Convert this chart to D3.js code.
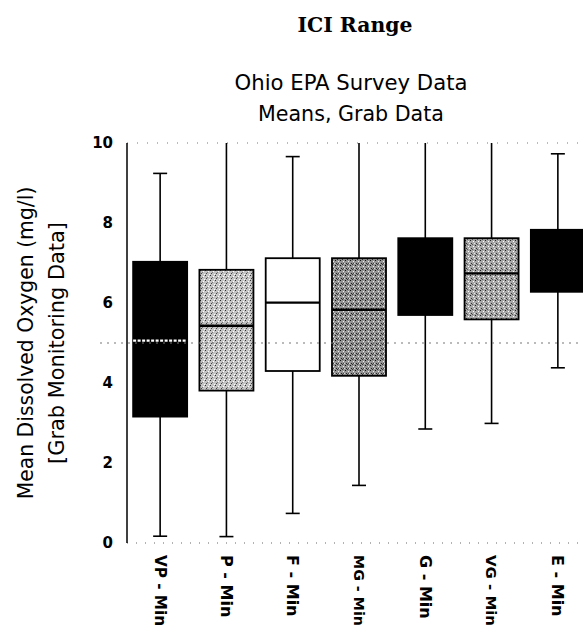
<!DOCTYPE html>
<html>
<head>
<meta charset="utf-8">
<script src="https://cdn.jsdelivr.net/npm/d3@7"></script>
<style>
  html, body { margin: 0; padding: 0; background: #fff; }
  svg { display: block; }
</style>
</head>
<body>
<svg id="chart" width="583" height="629"></svg>
<script>
// ---- data ----
const categories = ["VP - Min", "P - Min", "F - Min", "MG - Min", "G - Min", "VG - Min", "E - Min"];
const whiskerLow  = [0.17, 0.16, 0.74, 1.44, 2.85, 2.99, 4.38];
const q1          = [3.16, 3.81, 4.30, 4.18, 5.70, 5.59, 6.28];
const median      = [5.06, 5.43, 6.01, 5.83, null, 6.74, null];
const q3          = [7.03, 6.83, 7.12, 7.12, 7.62, 7.62, 7.83];
const whiskerHigh = [9.24, 10, 9.66, 10, 10, 10, 9.73];
const yTicks = [0, 2, 4, 6, 8, 10];
const referenceLevel = 5;
const titleMain = "ICI Range";
const subtitle = ["Ohio EPA Survey Data", "Means, Grab Data"];
const yTitle = ["Mean Dissolved Oxygen (mg/l)", "[Grab Monitoring Data]"];

// ---- styles ----
const boxFill   = ["#000000", "url(#stipLight)", "#ffffff", "url(#stipDark)", "#000000", "url(#stipMid)", "#000000"];
const medianCol = ["#ffffff", "#000000", "#000000", "#000000", "#000000", "#000000", "#000000"];
const font = "'DejaVu Sans', sans-serif";

const svg = d3.select("#chart");
const pLeft = 127, pRight = 591, pTop = 143, pBottom = 543;

// stipple patterns (texture only)
const defs = svg.append("defs");
function stipple(id, bg, dots) {
  const p = defs.append("pattern").attr("id", id).attr("patternUnits", "userSpaceOnUse")
    .attr("width", 5).attr("height", 5);
  p.append("rect").attr("width", 5).attr("height", 5).attr("fill", bg);
  dots.forEach(([dx, dy, c]) => p.append("rect").attr("x", dx).attr("y", dy)
    .attr("width", 1).attr("height", 1).attr("fill", c));
}
stipple("stipLight", "#c4c4c4", [[0,0,"#333"],[3,1,"#fff"],[1,3,"#444"],[4,4,"#fff"],[2,2,"#777"]]);
stipple("stipMid",   "#a8a8a8", [[0,0,"#222"],[3,1,"#fff"],[1,3,"#333"],[4,3,"#eee"],[2,4,"#555"]]);
stipple("stipDark",  "#949494", [[0,0,"#111"],[3,1,"#eee"],[1,3,"#222"],[4,3,"#ddd"],[2,4,"#333"],[3,3,"#444"]]);

const x = d3.scaleBand().domain(categories).range([pLeft, pRight])
  .paddingInner(0.185).paddingOuter(0.0925);
const y = d3.scaleLinear().domain([0, 10]).range([pBottom, pTop]);

const data = categories.map((c, i) => ({
  c, lo: whiskerLow[i], q1: q1[i], med: median[i], q3: q3[i], hi: whiskerHigh[i],
  fill: boxFill[i], mcol: medianCol[i]
}));

// frame: dotted top and bottom
svg.append("line").attr("x1", pLeft).attr("x2", 583).attr("y1", pTop).attr("y2", pTop)
  .attr("stroke", "#777").attr("stroke-width", 1).attr("stroke-dasharray", "1,9");
svg.append("line").attr("x1", pLeft).attr("x2", 583).attr("y1", pBottom).attr("y2", pBottom)
  .attr("stroke", "#666").attr("stroke-width", 1).attr("stroke-dasharray", "1,8");

const g = svg.append("g");
const capW = 14;
const groups = g.selectAll("g.box").data(data).join("g").attr("class", "box");
const cx = d => x(d.c) + x.bandwidth() / 2;

// whiskers
groups.append("line")
  .attr("x1", cx).attr("x2", cx)
  .attr("y1", d => y(d.lo)).attr("y2", d => y(d.hi))
  .attr("stroke", "#000").attr("stroke-width", 1.6);
groups.append("line")
  .attr("x1", d => cx(d) - capW / 2).attr("x2", d => cx(d) + capW / 2)
  .attr("y1", d => y(d.lo)).attr("y2", d => y(d.lo))
  .attr("stroke", "#000").attr("stroke-width", 1.6);
groups.filter(d => d.hi < 10).append("line")
  .attr("x1", d => cx(d) - capW / 2).attr("x2", d => cx(d) + capW / 2)
  .attr("y1", d => y(d.hi)).attr("y2", d => y(d.hi))
  .attr("stroke", "#000").attr("stroke-width", 1.6);

// boxes
groups.append("rect")
  .attr("x", d => x(d.c)).attr("width", x.bandwidth())
  .attr("y", d => y(d.q3)).attr("height", d => y(d.q1) - y(d.q3))
  .attr("fill", d => d.fill).attr("stroke", "#000").attr("stroke-width", 1.8);

// reference dotted line
svg.append("line").attr("x1", 100).attr("x2", 583)
  .attr("y1", y(referenceLevel)).attr("y2", y(referenceLevel))
  .attr("stroke", "#777").attr("stroke-width", 1.2).attr("stroke-dasharray", "2,5");

// medians
groups.filter(d => d.med !== null).append("line")
  .attr("x1", d => x(d.c)).attr("x2", d => x(d.c) + x.bandwidth())
  .attr("y1", d => y(d.med)).attr("y2", d => y(d.med))
  .attr("stroke", d => d.mcol).attr("stroke-width", 2.4)
  .attr("stroke-dasharray", d => d.mcol === "#ffffff" ? "3,1.5" : null);

// y axis line
svg.append("line").attr("x1", pLeft).attr("x2", pLeft).attr("y1", pTop).attr("y2", pBottom)
  .attr("stroke", "#000").attr("stroke-width", 1.5);

// fit a text element's length to a target by adjusting font size
function fit(sel, target, onlyShrink) {
  sel.each(function () {
    const fs = parseFloat(this.getAttribute("font-size"));
    const w = this.getComputedTextLength();
    if (w > 0 && (!onlyShrink || w > target)) this.setAttribute("font-size", (fs * target / w).toFixed(2));
  });
}

// y tick labels
svg.append("g").selectAll("text").data(yTicks).join("text")
  .attr("x", 113).attr("y", d => y(d)).attr("dy", "0.36em")
  .attr("text-anchor", "end").attr("font-family", font).attr("font-weight", "bold")
  .attr("font-size", 15).text(d => d);

// x labels (rotated)
const xl = svg.append("g").selectAll("text").data(categories).join("text")
  .attr("transform", d => `translate(${x(d) + x.bandwidth() / 2},555) rotate(90)`)
  .attr("dy", "0.35em").attr("text-anchor", "start")
  .attr("font-family", font).attr("font-weight", "bold").attr("font-size", 16)
  .text(d => d);
fit(xl, 71, true);

// titles
fit(svg.append("text").attr("x", 355).attr("y", 32).attr("text-anchor", "middle")
  .attr("font-family", "'DejaVu Serif', serif").attr("font-weight", "bold")
  .attr("font-size", 20).text(titleMain), 115);
const sub = svg.append("g").selectAll("text").data(subtitle).join("text")
  .attr("x", 351).attr("y", (d, i) => 90 + i * 31).attr("text-anchor", "middle")
  .attr("font-family", font).attr("font-size", 20).text(d => d);
fit(sub.filter((d, i) => i === 0), 233);
fit(sub.filter((d, i) => i === 1), 186);

// y title
const yt = svg.append("g").selectAll("text").data(yTitle).join("text")
  .attr("transform", (d, i) => `translate(${33 + i * 31},343) rotate(-90)`)
  .attr("text-anchor", "middle")
  .attr("font-family", font).attr("font-size", 19).text(d => d);
fit(yt.filter((d, i) => i === 0), 313);
fit(yt.filter((d, i) => i === 1), 242);
</script>
</body>
</html>
